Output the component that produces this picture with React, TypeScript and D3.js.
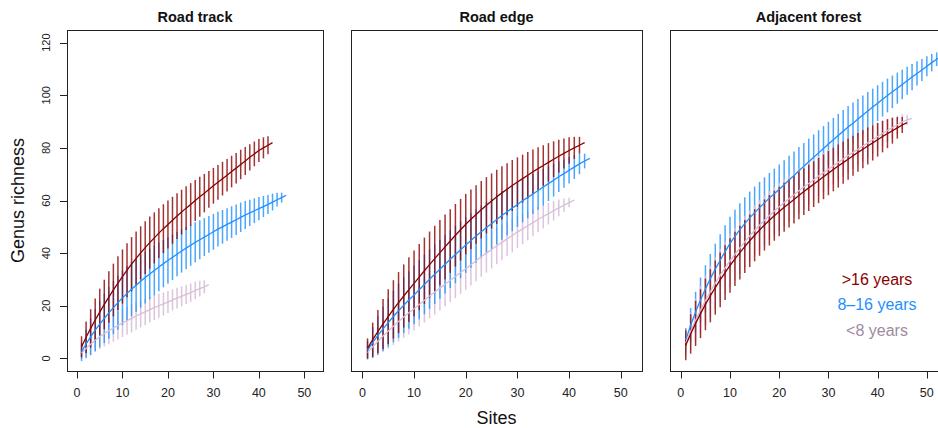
import React from "react";
import * as d3 from "d3";

// ---------- data (mean richness and 2*sd half-width of bars, per site 1..n) ----------
const trackOldMean = [4.4,8.0,11.4,14.6,17.6,20.5,23.3,26.0,28.6,31.1,33.5,35.8,38.0,40.1,42.1,44.0,45.8,47.6,49.3,50.9,52.5,54.1,55.6,57.1,58.5,60.0,61.4,62.8,64.2,65.6,66.9,68.3,69.6,71.0,72.3,73.7,75.0,76.4,77.7,79.0,80.0,81.0,82.0];
const trackOldCi = [4.0,6.0,7.3,8.2,8.9,9.4,9.8,10.0,10.2,10.3,10.3,10.3,10.2,10.1,10.0,9.9,9.7,9.5,9.3,9.1,8.9,8.7,8.5,8.3,8.1,7.8,7.6,7.3,7.0,6.8,6.6,6.4,6.2,6.0,5.8,5.6,5.3,5.0,4.7,4.4,4.0,3.4,0];
const trackMidMean = [2.5,5.5,8.2,10.7,13.0,15.2,17.3,19.3,21.2,23.0,24.7,26.3,27.8,29.3,30.7,32.1,33.4,34.7,36.0,37.2,38.4,39.6,40.8,41.9,43.0,44.1,45.1,46.1,47.1,48.1,49.1,50.0,50.9,51.8,52.7,53.6,54.5,55.3,56.1,56.9,57.7,58.5,59.4,60.3,61.1,62.0];
const trackMidCi = [3.5,5.5,7.0,8.0,8.8,9.4,9.8,10.1,10.3,10.4,10.4,10.3,10.2,10.0,9.8,9.6,9.4,9.2,9.0,8.8,8.6,8.4,8.2,8.0,7.8,7.6,7.4,7.2,7.0,6.8,6.6,6.4,6.2,6.0,5.8,5.6,5.3,5.0,4.7,4.4,4.0,3.6,3.2,2.6,1.9,0];
const trackYoungMean = [2.0,3.8,5.4,6.9,8.2,9.4,10.5,11.5,12.5,13.4,14.3,15.2,16.1,16.9,17.7,18.5,19.3,20.0,20.7,21.4,22.2,22.9,23.6,24.3,25.0,25.8,26.5,27.2,28.0];
const trackYoungCi = [2.2,3.2,3.9,4.4,4.7,4.9,5.1,5.2,5.3,5.3,5.3,5.3,5.2,5.1,5.0,4.9,4.8,4.6,4.4,4.2,4.0,3.9,3.8,3.6,3.5,3.3,3.0,2.5,0];

const edgeOldMean = [3.8,7.1,10.2,13.1,15.9,18.6,21.2,23.7,26.1,28.5,30.9,33.3,35.6,37.9,40.2,42.4,44.6,46.8,48.9,51.0,52.9,54.7,56.5,58.2,59.8,61.4,62.9,64.3,65.7,67.0,68.3,69.6,70.9,72.1,73.3,74.5,75.7,76.8,77.9,79.0,80.0,81.0,82.0];
const edgeOldCi = [3.8,6.5,8.2,9.5,10.4,11.1,11.6,12.0,12.3,12.5,12.6,12.6,12.6,12.5,12.4,12.3,12.1,11.9,11.7,11.5,11.3,11.1,10.9,10.7,10.5,10.3,10.1,9.9,9.7,9.4,9.1,8.8,8.5,8.1,7.7,7.3,6.8,6.3,5.7,5.0,4.2,3.2,0];
const edgeMidMean = [3.1,6.0,8.7,11.2,13.6,15.9,18.1,20.2,22.2,24.1,26.1,28.1,30.1,32.0,33.9,35.8,37.7,39.5,41.3,43.1,44.8,46.5,48.1,49.7,51.2,52.8,54.3,55.7,57.1,58.5,59.9,61.2,62.5,63.8,65.1,66.4,67.7,69.0,70.2,71.5,72.7,73.9,75.0,76.0];
const edgeMidCi = [3.5,5.8,7.3,8.4,9.2,9.8,10.3,10.6,10.9,11.1,11.2,11.3,11.3,11.3,11.2,11.1,11.0,10.9,10.8,10.6,10.4,10.2,10.0,9.8,9.6,9.4,9.2,9.0,8.8,8.5,8.2,7.9,7.6,7.3,7.0,6.6,6.2,5.8,5.4,5.0,4.5,3.9,2.8,0];
const edgeYoungMean = [2.2,4.4,6.5,8.5,10.4,12.2,14.0,15.7,17.3,18.9,20.5,22.1,23.7,25.2,26.7,28.2,29.7,31.1,32.6,34.1,35.6,37.1,38.6,40.0,41.4,42.8,44.1,45.4,46.7,48.0,49.2,50.4,51.6,52.8,53.9,55.0,56.1,57.2,58.2,59.2,60.2];
const edgeYoungCi = [2.5,4.2,5.3,6.1,6.7,7.2,7.6,7.9,8.1,8.3,8.4,8.5,8.5,8.5,8.5,8.4,8.3,8.2,8.1,8.0,7.9,7.8,7.6,7.4,7.2,7.0,6.8,6.6,6.4,6.1,5.8,5.5,5.2,4.9,4.5,4.1,3.7,3.2,2.6,1.8,0];

const forestOldMean = [5.0,9.3,13.3,17.0,20.5,23.8,26.9,29.8,32.6,35.3,37.8,40.2,42.5,44.7,46.8,48.8,50.7,52.5,54.2,55.8,57.4,58.9,60.4,61.9,63.4,64.8,66.2,67.6,69.0,70.4,71.8,73.1,74.4,75.7,77.0,78.3,79.5,80.7,81.9,83.1,84.3,85.4,86.5,87.6,88.7,89.6];
const forestOldCi = [5.7,7.5,8.6,9.3,9.8,10.1,10.3,10.4,10.4,10.4,10.3,10.2,10.1,10.0,9.9,9.8,9.7,9.6,9.5,9.4,9.3,9.2,9.1,9.0,8.9,8.8,8.7,8.6,8.5,8.4,8.3,8.2,8.0,7.8,7.6,7.4,7.2,7.0,6.7,6.4,6.0,5.5,4.9,4.1,3.0,0];
const forestMidMean = [7.0,12.6,17.6,22.2,26.4,30.3,33.9,37.3,40.6,43.7,46.4,48.9,51.2,53.4,55.4,57.3,59.1,60.9,62.6,64.3,66.0,67.8,69.5,71.3,73.0,74.7,76.4,78.1,79.8,81.5,83.1,84.7,86.3,87.9,89.4,91.0,92.5,94.0,95.5,97.0,98.5,99.9,101.3,102.7,104.1,105.5,106.9,108.3,109.6,111.0,112.4,113.7,115.0];
const forestMidCi = [4.5,6.5,7.7,8.5,9.0,9.4,9.7,9.9,10.0,10.1,10.1,10.1,10.0,10.0,9.9,9.8,9.7,9.6,9.5,9.4,9.3,9.2,9.1,9.0,8.9,8.8,8.7,8.6,8.5,8.4,8.3,8.2,8.1,8.0,7.8,7.6,7.4,7.2,7.0,6.8,6.6,6.4,6.2,5.9,5.6,5.3,5.0,4.6,4.2,3.8,3.3,2.6,0];
const forestYoungMean = [5.8,10.3,14.5,18.4,22.0,25.4,28.6,31.6,34.4,37.1,39.6,42.0,44.3,46.5,48.6,50.6,52.5,54.3,56.0,57.6,59.2,60.7,62.2,63.7,65.1,66.5,67.9,69.3,70.6,71.9,73.2,74.5,75.8,77.1,78.3,79.5,80.7,81.9,83.1,84.3,85.5,86.6,87.7,88.8,89.9,90.6,91.2];
const forestYoungCi = [5.0,7.0,8.2,9.0,9.5,9.8,10.0,10.1,10.1,10.1,10.0,9.9,9.8,9.7,9.6,9.5,9.4,9.3,9.2,9.1,9.0,8.9,8.7,8.5,8.3,8.1,7.9,7.7,7.5,7.3,7.1,6.9,6.7,6.5,6.3,6.1,5.9,5.7,5.4,5.1,4.8,4.4,4.0,3.5,2.9,2.0,0];

const panelTitles = ["Road track", "Road edge", "Adjacent forest"];
const legendLabels = [">16 years", "8\u201316 years", "<8 years"];
const xTicks = [0, 10, 20, 30, 40, 50];
const yTicks = [0, 20, 40, 60, 80, 100, 120];
const xLabel = "Sites";
const yLabel = "Genus richness";

// ---------- styling ----------
const FONT = "'Liberation Sans', Arial, Helvetica, sans-serif";
const OLD = "#8B0000";
const MID = "#1E90FF";
const YOUNG = "#D8BFD8";
const legendColors = [OLD, MID, "#9d8b9d"];

const W = 938;
const H = 428;
const TOP = 30;
const BOTTOM = 371;
const panelBounds = [
  [67, 323],
  [351, 642],
  [670, 947],
];

type Series = { mean: number[]; ci: number[]; color: string; barOpacity: number };

const panelSeries: Series[][] = [
  [
    { mean: trackYoungMean, ci: trackYoungCi, color: YOUNG, barOpacity: 0.9 },
    { mean: trackMidMean, ci: trackMidCi, color: MID, barOpacity: 0.8 },
    { mean: trackOldMean, ci: trackOldCi, color: OLD, barOpacity: 0.8 },
  ],
  [
    { mean: edgeYoungMean, ci: edgeYoungCi, color: YOUNG, barOpacity: 0.9 },
    { mean: edgeMidMean, ci: edgeMidCi, color: MID, barOpacity: 0.8 },
    { mean: edgeOldMean, ci: edgeOldCi, color: OLD, barOpacity: 0.8 },
  ],
  [
    { mean: forestMidMean, ci: forestMidCi, color: MID, barOpacity: 0.8 },
    { mean: forestYoungMean, ci: forestYoungCi, color: YOUNG, barOpacity: 0.9 },
    { mean: forestOldMean, ci: forestOldCi, color: OLD, barOpacity: 0.8 },
  ],
];

const yScale = d3.scaleLinear().domain([-4.8, 124.8]).range([BOTTOM, TOP]);

function Panel({ idx }: { idx: number }) {
  const [left, right] = panelBounds[idx];
  const x = d3.scaleLinear().domain([-2.2, 54.1]).range([left, right]);
  const series = panelSeries[idx];
  const line = d3
    .line<number>()
    .x((_, i) => x(i + 1))
    .y((d) => yScale(d));
  const clipId = `clip-${idx}`;
  return (
    <g>
      <defs>
        <clipPath id={clipId}>
          <rect x={left} y={TOP} width={right - left} height={BOTTOM - TOP} />
        </clipPath>
      </defs>
      <g clipPath={`url(#${clipId})`}>
        {series.map((s, si) => (
          <g key={"b" + si} stroke={s.color} strokeOpacity={s.barOpacity} strokeWidth={1.5}>
            {s.mean.map((m, i) => (
              <line
                key={i}
                x1={x(i + 1)}
                x2={x(i + 1)}
                y1={yScale(m - s.ci[i])}
                y2={yScale(m + s.ci[i])}
              />
            ))}
          </g>
        ))}
        {series.map((s, si) => (
          <path key={"l" + si} d={line(s.mean) || ""} fill="none" stroke={s.color} strokeWidth={1.3} />
        ))}
      </g>
      <rect
        x={left + 0.5}
        y={TOP + 0.5}
        width={right - left}
        height={BOTTOM - TOP}
        fill="none"
        stroke="#222"
        strokeWidth={1}
      />
      {xTicks.map((t) => (
        <g key={t}>
          <line x1={Math.round(x(t)) + 0.5} x2={Math.round(x(t)) + 0.5} y1={BOTTOM + 0.5} y2={BOTTOM + 7.5} stroke="#222" />
          <text x={x(t)} y={397} textAnchor="middle" fontSize={12.5} fontFamily={FONT} fill="#222">
            {t}
          </text>
        </g>
      ))}
      {idx === 0 &&
        yTicks.map((t) => (
          <g key={"y" + t}>
            <line x1={left - 7} x2={left + 0.5} y1={Math.round(yScale(t)) + 0.5} y2={Math.round(yScale(t)) + 0.5} stroke="#222" />
            <text
              transform={`translate(50,${yScale(t)}) rotate(-90)`}
              textAnchor="middle"
              fontSize={11}
              fontFamily={FONT}
              fill="#222"
            >
              {t}
            </text>
          </g>
        ))}
      <text
        x={(left + right) / 2}
        y={21.5}
        textAnchor="middle"
        fontSize={14.5}
        fontWeight="bold"
        fontFamily={FONT}
        fill="#111"
      >
        {panelTitles[idx]}
      </text>
    </g>
  );
}

export default function App() {
  return (
    <svg
      width={W}
      height={H}
      viewBox={`0 0 ${W} ${H}`}
      style={{ position: "absolute", left: 0, top: 0, background: "#fff" }}
    >
      <rect width={W} height={H} fill="#fff" />
      {[0, 1, 2].map((i) => (
        <Panel key={i} idx={i} />
      ))}
      <text x={496.5} y={424} textAnchor="middle" fontSize={18} fontFamily={FONT} fill="#111">
        {xLabel}
      </text>
      <text transform="translate(23.5,200.5) rotate(-90)" textAnchor="middle" fontSize={18} fontFamily={FONT} fill="#111">
        {yLabel}
      </text>
      {legendLabels.map((l, i) => (
        <text key={l} x={877} y={285 + i * 25.3} textAnchor="middle" fontSize={16} fontFamily={FONT} fill={legendColors[i]}>
          {l}
        </text>
      ))}
    </svg>
  );
}
